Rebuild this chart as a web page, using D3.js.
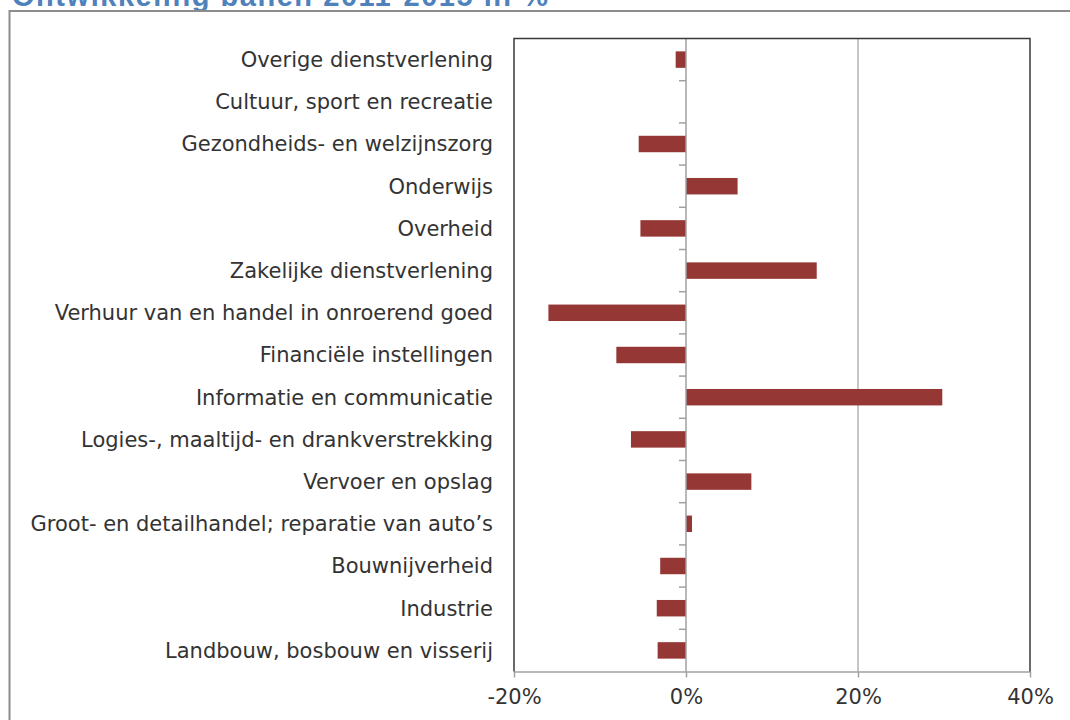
<!DOCTYPE html>
<html>
<head>
<meta charset="utf-8">
<script src="https://cdn.jsdelivr.net/npm/d3@7"></script>
<style>
  body { margin: 0; background: #fff; }
  svg { display: block; }
</style>
</head>
<body>
<div id="plot"></div>
<script>
// sectors, top to bottom as in the chart
const sectors = [
  "Overige dienstverlening",
  "Cultuur, sport en recreatie",
  "Gezondheids- en welzijnszorg",
  "Onderwijs",
  "Overheid",
  "Zakelijke dienstverlening",
  "Verhuur van en handel in onroerend goed",
  "Financiële instellingen",
  "Informatie en communicatie",
  "Logies-, maaltijd- en drankverstrekking",
  "Vervoer en opslag",
  "Groot- en detailhandel; reparatie van auto\u2019s",
  "Bouwnijverheid",
  "Industrie",
  "Landbouw, bosbouw en visserij"
];
// change in jobs, %
const change = [-1.2, 0, -5.5, 6.0, -5.3, 15.2, -16.0, -8.1, 29.8, -6.4, 7.6, 0.7, -3.0, -3.4, -3.3];
const xTicks = [-20, 0, 20, 40];

const width = 1070, height = 720;
const margin = {top: 38.5, right: 40, bottom: 48.5, left: 514};

const svg = d3.select("#plot").append("svg")
  .attr("width", width)
  .attr("height", height);

// title, cut off at the top edge like the original
svg.append("text")
  .attr("x", 12)
  .attr("y", 5.5)
  .attr("font-family", "Liberation Sans, Arial, sans-serif")
  .attr("font-size", "29px")
  .attr("font-weight", "bold")
  .attr("fill", "#4f81bd")
  .attr("textLength", 536)
  .attr("lengthAdjust", "spacing")
  .text("Ontwikkeling banen 2011-2015 in %");

// outer frame
svg.append("path")
  .attr("d", `M9.5,${height + 5}V11H${width + 5}`)
  .attr("fill", "none")
  .attr("stroke", "#8c8c8c")
  .attr("stroke-width", 2);

const x = d3.scaleLinear()
  .domain([-20, 40])
  .range([margin.left, width - margin.right]);

const y = d3.scaleBand()
  .domain(sectors)
  .range([margin.top, height - margin.bottom])
  .paddingInner(0.61)
  .paddingOuter(0.305);

const step = y.step();
const plotTop = margin.top, plotBottom = height - margin.bottom;

// gridline at 20%
svg.append("line")
  .attr("x1", x(20)).attr("x2", x(20))
  .attr("y1", plotTop).attr("y2", plotBottom)
  .attr("stroke", "#a0a0a0")
  .attr("stroke-width", 1.2);

// bars
svg.selectAll("rect.bar")
  .data(sectors)
  .enter().append("rect")
  .attr("class", "bar")
  .attr("x", (d, i) => x(Math.min(0, change[i])))
  .attr("y", d => y(d))
  .attr("width", (d, i) => Math.abs(x(change[i]) - x(0)))
  .attr("height", y.bandwidth())
  .attr("fill", "#953735");

// zero line with category ticks
svg.append("line")
  .attr("x1", x(0)).attr("x2", x(0))
  .attr("y1", plotTop).attr("y2", plotBottom)
  .attr("stroke", "#a0a0a0")
  .attr("stroke-width", 1.5);

svg.selectAll("line.ytick")
  .data(d3.range(1, sectors.length))
  .enter().append("line")
  .attr("class", "ytick")
  .attr("x1", x(0) - 7).attr("x2", x(0))
  .attr("y1", i => plotTop + i * step)
  .attr("y2", i => plotTop + i * step)
  .attr("stroke", "#a0a0a0")
  .attr("stroke-width", 1.5);

// x axis
const xAxis = d3.axisBottom(x)
  .tickValues(xTicks)
  .tickFormat(d => d + "%")
  .tickSizeInner(6)
  .tickSizeOuter(0)
  .tickPadding(12);

const gx = svg.append("g")
  .attr("transform", `translate(0,${plotBottom})`)
  .call(xAxis);
gx.select(".domain").attr("stroke", "#a0a0a0").attr("stroke-width", 1.5);
gx.selectAll(".tick line").attr("stroke", "#a0a0a0").attr("stroke-width", 1.5);
gx.selectAll(".tick text")
  .attr("font-family", "DejaVu Sans, Verdana, sans-serif")
  .attr("font-size", "21px")
  .attr("fill", "#333");

// plot border (left, top, right)
svg.append("path")
  .attr("d", `M${x(-20)},${plotBottom}V${plotTop}H${x(40)}V${plotBottom}`)
  .attr("fill", "none")
  .attr("stroke", "#3a3a3a")
  .attr("stroke-width", 1.5);

// category labels
svg.selectAll("text.cat")
  .data(sectors)
  .enter().append("text")
  .attr("class", "cat")
  .attr("x", margin.left - 21)
  .attr("y", d => y(d) + y.bandwidth() / 2)
  .attr("dy", "0.35em")
  .attr("text-anchor", "end")
  .attr("font-family", "DejaVu Sans, Verdana, sans-serif")
  .attr("font-size", "21px")
  .attr("fill", "#333")
  .text(d => d);
</script>
</body>
</html>
